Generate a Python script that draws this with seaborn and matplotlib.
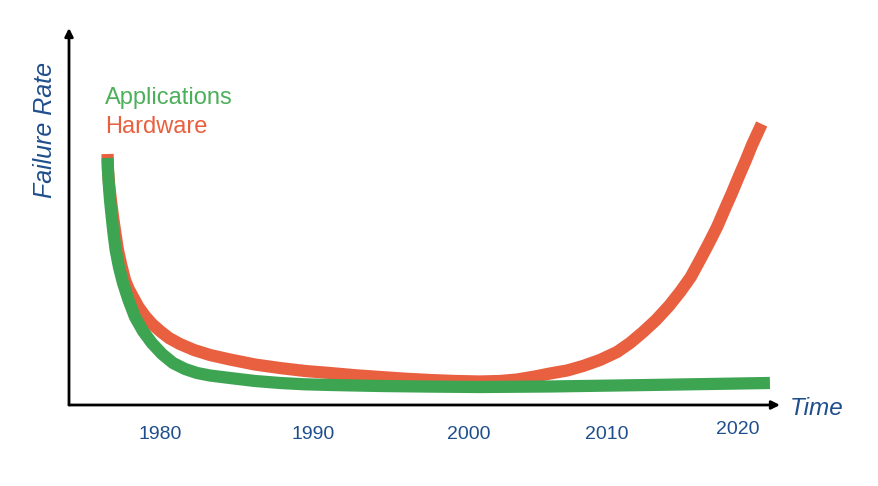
import matplotlib
matplotlib.use("Agg")
import matplotlib.pyplot as plt
import matplotlib.transforms as mtransforms
import seaborn as sns
import pandas as pd

# ---- data ----
app_years = [1976.37, 1976.40, 1976.45, 1976.54, 1976.66, 1976.78, 1976.93, 1977.16,
             1977.44, 1977.82, 1978.27, 1978.82, 1979.43, 1980.14, 1980.90, 1981.73,
             1982.56, 1983.46, 1984.84, 1986.57, 1988.30, 1990.03, 1991.76, 1995.22,
             1998.69, 2002.15, 2006.99, 2013.91, 2022.21]
app_rate = [65.52, 62.33, 58.89, 54.38, 49.87, 45.62, 41.11, 36.60,
            32.36, 27.85, 23.34, 19.63, 16.45, 13.53, 11.14, 9.55,
            8.49, 7.82, 7.16, 6.37, 5.84, 5.49, 5.31, 5.04,
            4.88, 4.77, 4.91, 5.31, 5.84]

hw_years = [1976.37, 1976.40, 1976.47, 1976.60, 1976.75, 1976.91, 1977.09, 1977.32,
            1977.58, 1977.83, 1978.13, 1978.51, 1978.96, 1979.45, 1980.00, 1980.62,
            1981.38, 1982.35, 1983.46, 1984.84, 1986.57, 1988.30, 1990.03, 1991.76,
            1993.49, 1995.22, 1996.96, 1998.69, 2000.42, 2002.15, 2003.53, 2004.71,
            2005.95, 2006.99, 2008.17, 2009.27, 2010.45, 2011.63, 2012.53, 2013.43,
            2014.33, 2015.22, 2015.99, 2016.73, 2017.37, 2017.99, 2018.55, 2019.03,
            2019.58, 2020.07, 2020.55, 2020.97, 2021.32, 2021.64]
hw_rate = [66.58, 62.33, 58.89, 54.38, 49.87, 45.62, 41.11, 37.14,
           33.16, 30.77, 28.65, 26.00, 23.61, 21.49, 19.63, 17.77,
           16.18, 14.59, 13.26, 12.07, 10.74, 9.81, 9.02, 8.49,
           7.90, 7.43, 6.98, 6.63, 6.37, 6.23, 6.37, 6.76,
           7.56, 8.36, 9.15, 10.34, 11.94, 14.06, 16.45, 19.36,
           22.55, 26.26, 29.97, 33.95, 38.46, 42.97, 47.21, 51.46,
           56.23, 60.74, 64.99, 68.97, 71.88, 74.54]

tick_labels = ["1980", "1990", "2000", "2010", "2020"]
tick_pos = [1980.0, 1990.6, 2001.4, 2010.9, 2020.0]

series_names = ["Applications", "Hardware"]
GREEN = "#3da452"
RED = "#e8603f"
BLUE = "#1f4e8c"

df = pd.concat([
    pd.DataFrame({"Year": hw_years, "Rate": hw_rate, "Series": "Hardware"}),
    pd.DataFrame({"Year": app_years, "Rate": app_rate, "Series": "Applications"}),
], ignore_index=True)

sns.set_theme(style="white")
plt.rcParams["font.family"] = ["Liberation Sans", "DejaVu Sans"]

W, H = 879, 486
fig = plt.figure(figsize=(W / 100, H / 100), dpi=100)
x0, x1, y0, y1 = 69, 780, 405, 28
ax = fig.add_axes([x0 / W, 1 - y0 / H, (x1 - x0) / W, (y0 - y1) / H])

sns.lineplot(data=df, x="Year", y="Rate", hue="Series",
             hue_order=["Hardware", "Applications"],
             palette={"Hardware": RED, "Applications": GREEN},
             linewidth=8.8, ax=ax, legend=False, sort=False, estimator=None)
for ln in ax.get_lines():
    ln.set_solid_capstyle("butt")
    ln.set_solid_joinstyle("round")

ax.set_xlim(1980 + (x0 - 160) / 14.45, 1980 + (x1 - 160) / 14.45)
ax.set_ylim(0, (y0 - y1) / 3.77)
for s in ax.spines.values():
    s.set_visible(False)

# axes with arrows
ax.annotate("", xy=(0, 1.0), xytext=(0, 0), xycoords="axes fraction",
            arrowprops=dict(arrowstyle="-|>", color="black", lw=2, mutation_scale=12,
                            shrinkA=0, shrinkB=0), annotation_clip=False)
ax.annotate("", xy=(1.0, 0), xytext=(0, 0), xycoords="axes fraction",
            arrowprops=dict(arrowstyle="-|>", color="black", lw=2, mutation_scale=12,
                            shrinkA=0, shrinkB=0), annotation_clip=False)

ax.set_yticks([])
ax.set_xticks(tick_pos)
ax.set_xticklabels(tick_labels, color=BLUE, fontsize=14)
ax.tick_params(axis="x", length=0, pad=15)
lab = ax.get_xticklabels()[-1]
lab.set_transform(lab.get_transform() + mtransforms.ScaledTranslation(0, 5 / 100, fig.dpi_scale_trans))
ax.set_xlabel("")
ax.set_ylabel("")

fig.text(45 / W, 1 - 130 / H, "Failure Rate", rotation=90, style="italic",
         color=BLUE, fontsize=18, ha="center", va="center")
fig.text(790 / W, 1 - 415 / H, "Time", style="italic", color=BLUE,
         fontsize=17.5, ha="left", va="baseline")

fig.text(105 / W, 1 - 104 / H, series_names[0], color="#4caf5a", fontsize=17,
         ha="left", va="baseline")
fig.text(105 / W, 1 - 133 / H, series_names[1], color=RED, fontsize=17,
         ha="left", va="baseline")

fig.savefig("out.png", dpi=100)
